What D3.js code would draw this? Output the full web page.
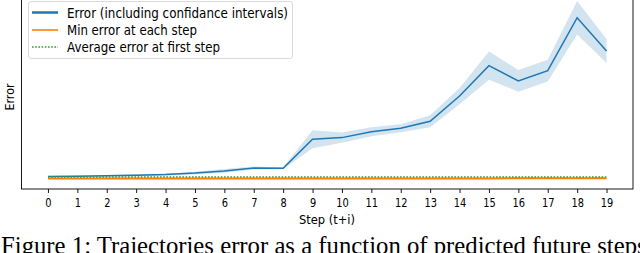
<!DOCTYPE html>
<html>
<head>
<meta charset="utf-8">
<script src="https://cdn.jsdelivr.net/npm/d3@7"></script>
<style>
  html, body { margin: 0; padding: 0; background: #fff; }
  svg { display: block; }
  text { font-family: "DejaVu Sans", sans-serif; fill: #000; }
</style>
</head>
<body>
<svg id="chart" width="640" height="253"></svg>
<script>
// steps on the x axis
const steps = d3.range(0, 20);
const tickLabels = steps.map(String);

// mean error per step (blue) with its confidence band
const errorMean  = [0.25, 0.27, 0.29, 0.32, 0.36, 0.44, 0.56, 0.72, 0.71, 2.32, 2.41, 2.74, 2.93, 3.32, 4.72, 6.41, 5.56, 6.13, 9.07, 7.22];
const errorLower = [0.21, 0.23, 0.25, 0.27, 0.30, 0.36, 0.46, 0.64, 0.65, 1.82, 2.13, 2.49, 2.71, 2.99, 4.27, 5.63, 4.96, 5.53, 8.14, 6.55];
const errorUpper = [0.29, 0.31, 0.33, 0.37, 0.42, 0.52, 0.66, 0.80, 0.77, 2.82, 2.69, 2.99, 3.15, 3.65, 5.17, 7.19, 6.16, 6.73, 10.0, 7.89];

// min error at each step (orange) and average error at the first step (green)
const minError = [0.14, 0.14, 0.14, 0.14, 0.14, 0.14, 0.14, 0.14, 0.14, 0.14, 0.14, 0.14, 0.14, 0.14, 0.14, 0.14, 0.15, 0.15, 0.15, 0.15];
const firstStepAvg = 0.22;

const legendLabels = ['Error (including confidance intervals)', 'Min error at each step', 'Average error at first step'];
const legendColors = ['#1f77b4', '#ff7f0e', '#2ca02c'];
const captionText = 'Figure 1: Trajectories error as a function of predicted future steps';

const svg = d3.select('#chart');
const plot = { left: 21.5, right: 633, top: -4, bottom: 189 };

const x = d3.scaleLinear()
  .domain([-0.9, 19.9])
  .range([plot.left, plot.right]);

const y = d3.scaleLinear()
  .domain([0, 10])
  .range([181, 1]);

// confidence band
svg.append('path')
  .datum(steps)
  .attr('fill', '#1f77b4')
  .attr('fill-opacity', 0.2)
  .attr('d', d3.area()
    .x(i => x(i))
    .y0(i => y(errorLower[i]))
    .y1(i => y(errorUpper[i])));

svg.append('path')
  .datum(steps)
  .attr('fill', 'none')
  .attr('stroke', '#1f77b4')
  .attr('stroke-width', 1.5)
  .attr('d', d3.line().x(i => x(i)).y(i => y(errorMean[i])));

svg.append('path')
  .datum(steps)
  .attr('fill', 'none')
  .attr('stroke', '#ff7f0e')
  .attr('stroke-width', 2)
  .attr('d', d3.line().x(i => x(i)).y(i => y(minError[i])));

svg.append('path')
  .datum(steps)
  .attr('fill', 'none')
  .attr('stroke', '#2ca02c')
  .attr('stroke-width', 1.6)
  .attr('stroke-dasharray', '1.6,1.6')
  .attr('d', d3.line().x(i => x(i)).y(() => y(firstStepAvg)));

// spines
svg.append('rect')
  .attr('x', plot.left).attr('y', plot.top)
  .attr('width', plot.right - plot.left).attr('height', plot.bottom - plot.top)
  .attr('fill', 'none').attr('stroke', '#000').attr('stroke-width', 0.9);

// x axis
const xAxis = svg.append('g')
  .attr('transform', `translate(0,${plot.bottom})`)
  .call(d3.axisBottom(x).tickValues(steps).tickFormat(i => tickLabels[i]).tickSize(4).tickPadding(5));
xAxis.select('.domain').remove();
xAxis.selectAll('line').attr('stroke-width', 0.9);
xAxis.selectAll('text')
  .style('font-family', '"DejaVu Sans", sans-serif')
  .style('font-size', '12px')
  .each(function () {
    d3.select(this)
      .attr('textLength', this.getComputedTextLength() * 0.82)
      .attr('lengthAdjust', 'spacingAndGlyphs');
  });

svg.append('text')
  .attr('x', 327).attr('y', 223.5)
  .attr('text-anchor', 'middle')
  .style('font-size', '12px')
  .attr('textLength', 56).attr('lengthAdjust', 'spacingAndGlyphs')
  .text('Step (t+i)');

svg.append('text')
  .attr('transform', 'translate(14,97) rotate(-90)')
  .attr('text-anchor', 'middle')
  .style('font-size', '12px')
  .attr('textLength', 27).attr('lengthAdjust', 'spacingAndGlyphs')
  .text('Error');

// legend
const legend = svg.append('g');
legend.append('rect')
  .attr('x', 28.5).attr('y', 1.5).attr('width', 264).attr('height', 57)
  .attr('rx', 2.5)
  .attr('fill', '#fff').attr('fill-opacity', 0.8)
  .attr('stroke', '#d6d6d6').attr('stroke-width', 0.9);

const legendWidths = [221, 130, 153];
const rowY = [12.5, 30, 47];
legendLabels.forEach((label, i) => {
  const line = legend.append('line')
    .attr('x1', 32).attr('x2', 58)
    .attr('y1', rowY[i]).attr('y2', rowY[i])
    .attr('stroke', legendColors[i])
    .attr('stroke-width', i === 0 ? 2.5 : 1.6);
  if (i === 2) line.attr('stroke-dasharray', '1.6,1.6');
  legend.append('text')
    .attr('x', 67).attr('y', rowY[i] + 5)
    .style('font-size', '13.5px')
    .attr('textLength', legendWidths[i]).attr('lengthAdjust', 'spacingAndGlyphs')
    .text(label);
});

// caption (runs off the bottom and right edges, as in the source)
const caption = svg.append('text')
  .attr('x', 1).attr('y', 253.5)
  .style('font-family', '"Liberation Serif", "Times New Roman", serif')
  .style('font-size', '22px')
  .text(captionText);
const fullW = caption.node().getComputedTextLength();
caption.style('font-size', (22 * 646 / fullW) + 'px');
</script>
</body>
</html>
